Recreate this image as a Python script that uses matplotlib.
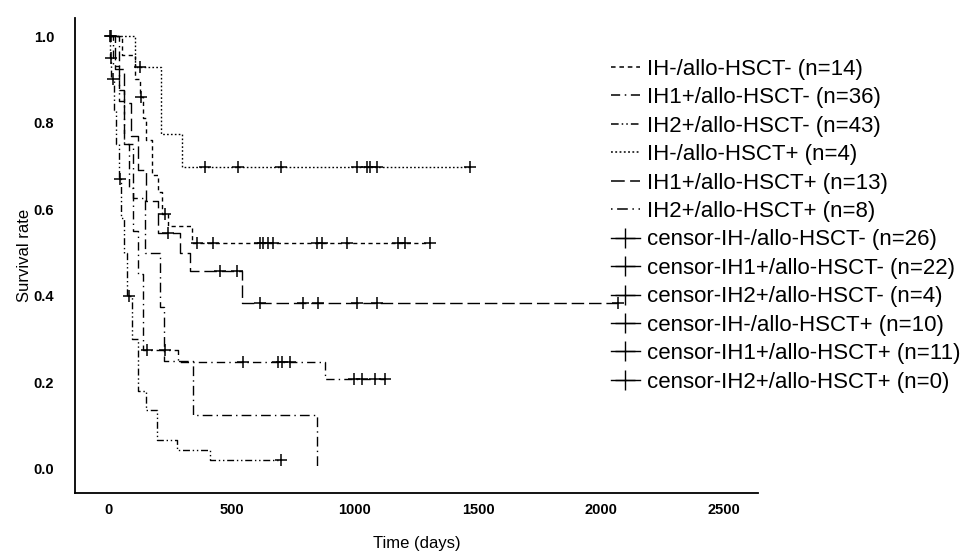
import matplotlib.pyplot as plt
import numpy as np
from matplotlib.legend_handler import HandlerLine2D
from matplotlib.lines import Line2D

plt.rcParams["font.family"] = ["Liberation Sans", "DejaVu Sans"]

# step curves: event times (days) and survival level from that time on
ih_neg_hsct_pos_t = [0, 106, 211, 297]
ih_neg_hsct_pos_s = [1.0, 0.929, 0.774, 0.697]
ih_neg_hsct_pos_end = 1467
ih_neg_hsct_pos_cens = [126, 390, 524, 699, 1008, 1049, 1061, 1089, 1467]

ih_neg_hsct_neg_t = [0, 55, 105, 125, 140, 150, 175, 200, 215, 240, 337]
ih_neg_hsct_neg_s = [1.0, 0.956, 0.90, 0.86, 0.81, 0.76, 0.68, 0.64, 0.59, 0.561, 0.522]
ih_neg_hsct_neg_end = 1305
ih_neg_hsct_neg_cens = [3, 130, 230, 358, 423, 614, 626, 646, 667, 846, 866, 967, 1175, 1203, 1305]

ih1_hsct_pos_t = [0, 25, 60, 90, 120, 150, 200, 289, 329, 541]
ih1_hsct_pos_s = [1.0, 0.923, 0.846, 0.77, 0.69, 0.62, 0.545, 0.499, 0.457, 0.383]
ih1_hsct_pos_end = 2069
ih1_hsct_pos_cens = [240, 451, 520, 614, 789, 850, 1008, 1089, 2069]

ih1_hsct_neg_t = [0, 15, 40, 60, 80, 100, 120, 140, 280, 880]
ih1_hsct_neg_s = [1.0, 0.93, 0.85, 0.75, 0.65, 0.55, 0.45, 0.275, 0.247, 0.208]
ih1_hsct_neg_end = 1122
ih1_hsct_neg_cens = [10, 154, 228, 545, 687, 703, 736, 995, 1028, 1080, 1122]

ih2_hsct_pos_t = [0, 40, 60, 100, 147, 207, 224, 341, 845]
ih2_hsct_pos_s = [1.0, 0.875, 0.75, 0.625, 0.5, 0.375, 0.25, 0.125, 0.0]
ih2_hsct_pos_end = 845
ih2_hsct_pos_cens = []

ih2_hsct_neg_t = [0, 5, 10, 20, 30, 40, 50, 60, 75, 95, 120, 150, 195, 275, 410]
ih2_hsct_neg_s = [1.0, 0.95, 0.9, 0.83, 0.75, 0.67, 0.58, 0.5, 0.4, 0.3, 0.18, 0.136, 0.067, 0.044, 0.021]
ih2_hsct_neg_end = 700
ih2_hsct_neg_cens = [8, 18, 45, 80, 700]

legend_labels = [
    "IH-/allo-HSCT- (n=14)",
    "IH1+/allo-HSCT- (n=36)",
    "IH2+/allo-HSCT- (n=43)",
    "IH-/allo-HSCT+ (n=4)",
    "IH1+/allo-HSCT+ (n=13)",
    "IH2+/allo-HSCT+ (n=8)",
]
censor_labels = [
    "censor-IH-/allo-HSCT- (n=26)",
    "censor-IH1+/allo-HSCT- (n=22)",
    "censor-IH2+/allo-HSCT- (n=4)",
    "censor-IH-/allo-HSCT+ (n=10)",
    "censor-IH1+/allo-HSCT+ (n=11)",
    "censor-IH2+/allo-HSCT+ (n=0)",
]

DOTTED = (0, (1.2, 1.6))
SHORT = (0, (3, 2.5))
LONG = (0, (9, 3.5))
DASHDOT = (0, (6, 3, 1, 3))
DOTDASH = (0, (1, 3, 7, 3))
DASHDOTDOT = (0, (5, 2, 1, 2, 1, 2))

curves = [
    (ih_neg_hsct_neg_t, ih_neg_hsct_neg_s, ih_neg_hsct_neg_end, ih_neg_hsct_neg_cens, SHORT),
    (ih1_hsct_neg_t, ih1_hsct_neg_s, ih1_hsct_neg_end, ih1_hsct_neg_cens, DASHDOT),
    (ih2_hsct_neg_t, ih2_hsct_neg_s, ih2_hsct_neg_end, ih2_hsct_neg_cens, DASHDOTDOT),
    (ih_neg_hsct_pos_t, ih_neg_hsct_pos_s, ih_neg_hsct_pos_end, ih_neg_hsct_pos_cens, DOTTED),
    (ih1_hsct_pos_t, ih1_hsct_pos_s, ih1_hsct_pos_end, ih1_hsct_pos_cens, LONG),
    (ih2_hsct_pos_t, ih2_hsct_pos_s, ih2_hsct_pos_end, ih2_hsct_pos_cens, DOTDASH),
]


class CensorHandler(HandlerLine2D):
    # put the cross right of centre, like the SPSS legend
    def get_xdata(self, legend, xdescent, ydescent, width, height, fontsize):
        xdata = np.array([-xdescent, -xdescent + width])
        return xdata, np.array([-xdescent + width * 0.62])


def level_at(t, times, surv):
    i = np.searchsorted(times, t, side="right") - 1
    return surv[max(i, 0)]


fig = plt.figure(figsize=(9.73, 5.60), dpi=100)
ax = fig.add_axes([0.077, 0.12, 0.702, 0.848])

for times, surv, end, cens, ls in curves:
    xs = list(times) + [end]
    ys = list(surv) + [surv[-1]]
    ax.step(xs, ys, where="post", color="black", lw=1.0, linestyle=ls)
    if cens:
        cy = [level_at(c, times, surv) for c in cens]
        ax.plot(cens, cy, linestyle="none", marker="+", color="black",
                markersize=9, markeredgewidth=1.1)

ax.set_xlim(-138, 2638)
ax.set_ylim(-0.055, 1.042)
ax.set_xticks([0, 500, 1000, 1500, 2000, 2500])
ax.set_yticks([0.0, 0.2, 0.4, 0.6, 0.8, 1.0])
ax.set_yticklabels(["0.0", "0.2", "0.4", "0.6", "0.8", "1.0"])
ax.tick_params(axis="x", length=0, labelsize=10.5, pad=7)
ax.tick_params(axis="y", length=0, labelsize=10.5, pad=15)
for lab in ax.get_xticklabels() + ax.get_yticklabels():
    lab.set_fontweight("bold")
    lab.set_family(["Liberation Sans Narrow", "Liberation Sans"])
for s in ["top", "right"]:
    ax.spines[s].set_visible(False)
for s in ["left", "bottom"]:
    ax.spines[s].set_linewidth(1.3)

ax.set_xlabel("Time (days)", fontsize=12, labelpad=14)
ax.set_ylabel("Survival rate", fontsize=12, labelpad=1)

handles = [Line2D([0], [0], color="black", lw=1.1, linestyle=c[4]) for c in curves]
censor_handles = [Line2D([0], [0], color="black", lw=1.0, marker="+", markersize=15,
                         markeredgewidth=1.0) for _ in censor_labels]
fig.legend(handles + censor_handles, legend_labels + censor_labels, loc="upper left",
           bbox_to_anchor=(0.628, 0.895), frameon=False, fontsize=16,
           handlelength=1.3, handletextpad=0.3, labelspacing=0.335,
           borderaxespad=0, borderpad=0,
           handler_map={h: CensorHandler(numpoints=1) for h in censor_handles})

fig.savefig("out.png", dpi=100)
